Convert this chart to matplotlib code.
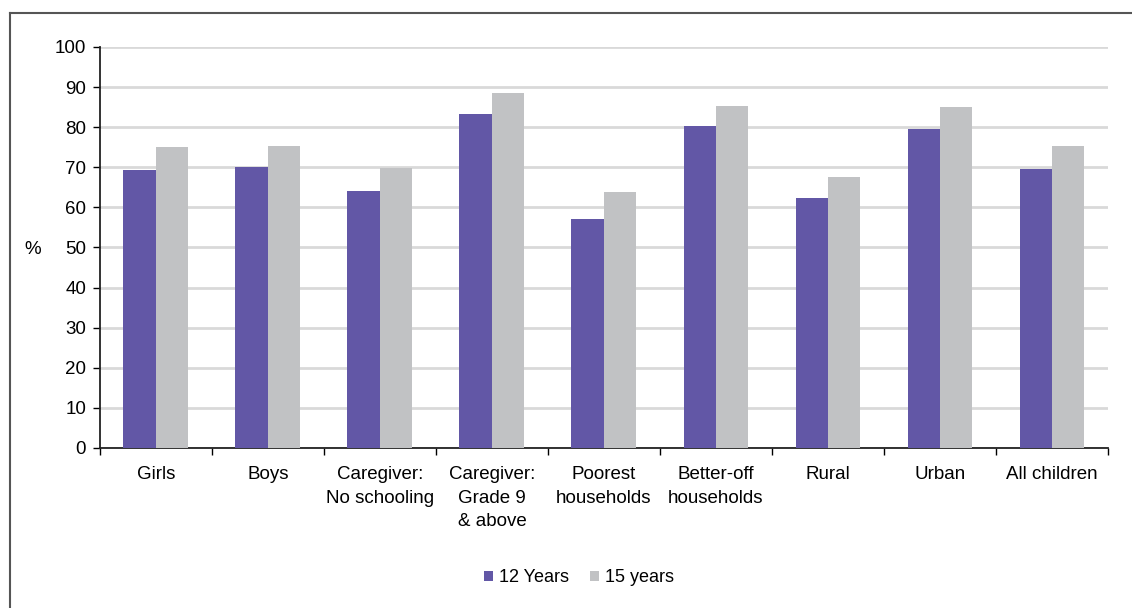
import numpy as np
import matplotlib.pyplot as plt
from matplotlib.lines import Line2D

plt.rcParams['font.family'] = ['Liberation Sans Narrow', 'Liberation Sans', 'DejaVu Sans']

# data
categories = ['Girls', 'Boys', 'Caregiver:\nNo schooling', 'Caregiver:\nGrade 9\n& above',
              'Poorest\nhouseholds', 'Better-off\nhouseholds', 'Rural', 'Urban', 'All children']
age12 = [69.2, 70.1, 64.2, 83.4, 57.0, 80.3, 62.3, 79.5, 69.6]
age15 = [75.0, 75.4, 69.9, 88.6, 63.9, 85.4, 67.7, 85.1, 75.3]
yticks = list(range(0, 101, 10))

purple = '#6257A6'
grey = '#C1C2C4'

fig = plt.figure(figsize=(11.32, 6.08), dpi=100)
ax = fig.add_axes([0.0883, 0.2632, 0.8905, 0.6595])

x = np.arange(len(categories))
w = 0.29
ax.bar(x - w / 2, age12, w, color=purple, label='12 Years', zorder=3)
ax.bar(x + w / 2, age15, w, color=grey, label='15 years', zorder=3)

ax.set_xlim(-0.5, len(categories) - 0.5)
ax.set_ylim(0, 100)
ax.set_yticks(yticks)
ax.yaxis.grid(True, color='#D9D9D9', linewidth=2, zorder=0)
ax.tick_params(axis='y', length=5, width=1, labelsize=13.5, pad=5)

# category labels centered, tick marks on the boundaries
ax.set_xticks(np.arange(-0.5, len(categories), 1))
ax.set_xticklabels([])
ax.tick_params(axis='x', length=5, width=1)
ax.set_xticks(x, minor=True)
ax.set_xticklabels(categories, minor=True, fontsize=13.5, linespacing=1.5, va='top')
ax.tick_params(axis='x', which='minor', length=0, pad=13)

for s in ['top', 'right']:
    ax.spines[s].set_visible(False)
ax.spines['left'].set_color('#222222')
ax.spines['bottom'].set_color('#222222')
ax.spines['left'].set_linewidth(1.3)
ax.spines['bottom'].set_linewidth(1.3)

fig.text(33 / 1132, 1 - 250 / 608, '%', fontsize=13.5, ha='center', va='center')

fig.legend(loc='center', bbox_to_anchor=(579 / 1132, 1 - 578 / 608), ncol=2, frameon=False,
           fontsize=13, handlelength=0.5, handleheight=0.5, handletextpad=0.3,
           columnspacing=1.2)

# outer frame
fig.add_artist(Line2D([9.5 / 1132, 9.5 / 1132], [0, 1 - 13 / 608], transform=fig.transFigure,
                      color='#555555', linewidth=1.5))
fig.add_artist(Line2D([9.5 / 1132, 1], [1 - 13 / 608, 1 - 13 / 608], transform=fig.transFigure,
                      color='#555555', linewidth=1.5))

fig.savefig('out.png', dpi=100)
